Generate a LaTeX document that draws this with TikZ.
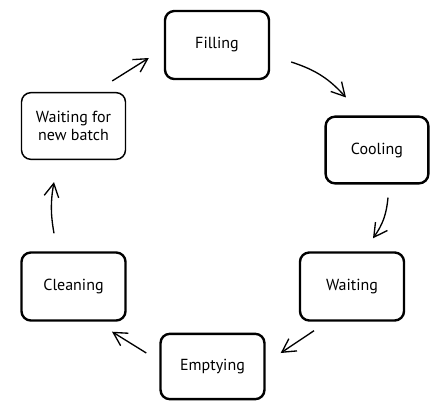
\documentclass[tikz,border=0pt]{standalone}
\usepackage{fontspec}
\setmainfont{PT Sans}
\usetikzlibrary{arrows.meta}
\begin{document}
\begin{tikzpicture}[x=0.75pt,y=-0.75pt,
  state/.style={draw, rounded corners=7pt, line width=1.8pt, align=center,
    inner sep=0pt, font=\fontsize{12}{13.5}\selectfont},
  arr/.style={line width=1pt, -{Straight Barb[length=10pt,width=11pt,line width=1pt]}}]
  \useasboundingbox (0,0) rectangle (430,401);
  % process stages
  \node[state, minimum width=78pt, minimum height=51pt] (fill) at (217,45) {Filling};
  \node[state, line width=1.1pt, minimum width=78pt, minimum height=50pt] (wait0) at (73.5,126) {Waiting for\\new batch};
  \node[state, minimum width=77pt, minimum height=50pt] (cool) at (377,150) {Cooling};
  \node[state, minimum width=78pt, minimum height=51pt] (clean) at (73.5,286.5) {Cleaning};
  \node[state, minimum width=78pt, minimum height=51pt] (wait) at (352,286.5) {Waiting};
  \node[state, minimum width=78pt, minimum height=49pt] (empty) at (212.5,366.5) {Emptying};
  % cycle transitions
  \draw[arr] ([shift={(-14,-11)}]wait0.north east) -- ([shift={(-15,13)}]fill.west);
  \draw[arr] ([shift={(21,17)}]fill.east) to[bend left=15] ([shift={(-31,-18)}]cool.north);
  \draw[arr] ([shift={(11,13)}]cool.south) to[bend left=15] ([shift={(21,-13)}]wait.north);
  \draw[arr] ([shift={(-38,9)}]wait.south) -- ([shift={(15,-13.5)}]empty.east);
  \draw[arr] ([shift={(-13,-13.5)}]empty.west) -- ([shift={(38.5,10)}]clean.south);
  \draw[arr] ([shift={(-19.5,-18)}]clean.north) to[bend left=10] ([shift={(-19.5,22)}]wait0.south);
\end{tikzpicture}
\end{document}
